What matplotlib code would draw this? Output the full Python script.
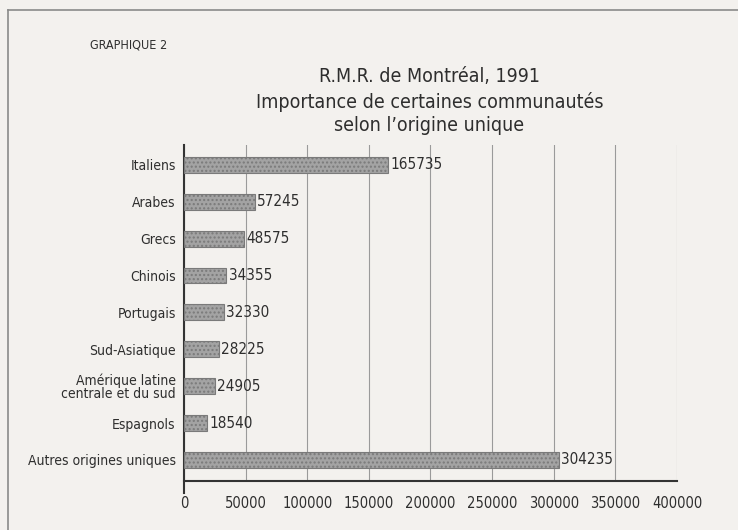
import numpy as np
import matplotlib
matplotlib.use('Agg')
import matplotlib.pyplot as plt
from matplotlib import font_manager

# Data
categories = ['Italiens', 'Arabes', 'Grecs', 'Chinois', 'Portugais', 'Sud-Asiatique',
              'Amérique latine\ncentrale et du sud', 'Espagnols', 'Autres origines uniques']
values = [165735, 57245, 48575, 34355, 32330, 28225, 24905, 18540, 304235]
xticks = [0, 50000, 100000, 150000, 200000, 250000, 300000, 350000, 400000]

# Use a condensed face if one is installed, otherwise shrink the sizes
cond = font_manager.findfont(font_manager.FontProperties(family='DejaVu Sans', stretch='condensed'))
if 'Condensed' in cond:
    stretch = 'condensed'
    k = 1.0
else:
    stretch = 'normal'
    k = 0.82
plt.rcParams['font.family'] = ['DejaVu Sans']
plt.rcParams['font.stretch'] = stretch
plt.rcParams['hatch.color'] = '#8c8c8c'

bg = '#f3f1ee'
tc = '#2e2e2e'
fig = plt.figure(figsize=(7.38, 5.30), dpi=100, facecolor=bg)

# Outer frame of the scanned page
fig.add_artist(plt.Line2D([0.011, 0.011], [0.0, 0.981], color='#8a8a8a', lw=1.2))
fig.add_artist(plt.Line2D([0.011, 1.0], [0.981, 0.981], color='#8a8a8a', lw=1.2))

fig.text(0.122, 0.908, 'GRAPHIQUE 2', fontsize=9 * k, color=tc)
fig.text(0.582, 0.845, 'R.M.R. de Montréal, 1991', fontsize=14 * k, color=tc, ha='center')
fig.text(0.582, 0.797, 'Importance de certaines communautés', fontsize=14 * k, color=tc, ha='center')
fig.text(0.582, 0.752, 'selon l\u2019origine unique', fontsize=14 * k, color=tc, ha='center')

ax = fig.add_axes([0.2493, 0.0925, 0.668, 0.634])
ax.set_facecolor(bg)

y = np.arange(len(categories))
ax.barh(y, values, height=0.43, color='#a3a3a3', edgecolor='#7a7a7a', linewidth=0.8,
        hatch='....', zorder=3)

for yi, v in zip(y, values):
    ax.text(v + 2000, yi, str(v), va='center', ha='left', fontsize=11 * k, color=tc)

ax.set_ylim(8.57, -0.54)
ax.set_xlim(0, 400000)
ax.set_yticks(y)
ax.set_yticklabels(categories, fontsize=10 * k, color=tc, linespacing=0.95)
ax.set_xticks(xticks)
ax.set_xticklabels([str(t) for t in xticks], fontsize=10.5 * k, color=tc)
ax.tick_params(axis='y', length=0, pad=6)
ax.tick_params(axis='x', length=0, pad=11)

ax.grid(axis='x', color='#9a9a9a', lw=0.8, zorder=0)
for s in ['top', 'right']:
    ax.spines[s].set_visible(False)
ax.spines['left'].set_color('#333333')
ax.spines['left'].set_linewidth(1.5)
ax.spines['left'].set_bounds(8.9, -0.54)
ax.spines['bottom'].set_color('#333333')
ax.spines['bottom'].set_linewidth(1.5)

fig.savefig('out.png', dpi=100, facecolor=bg)
